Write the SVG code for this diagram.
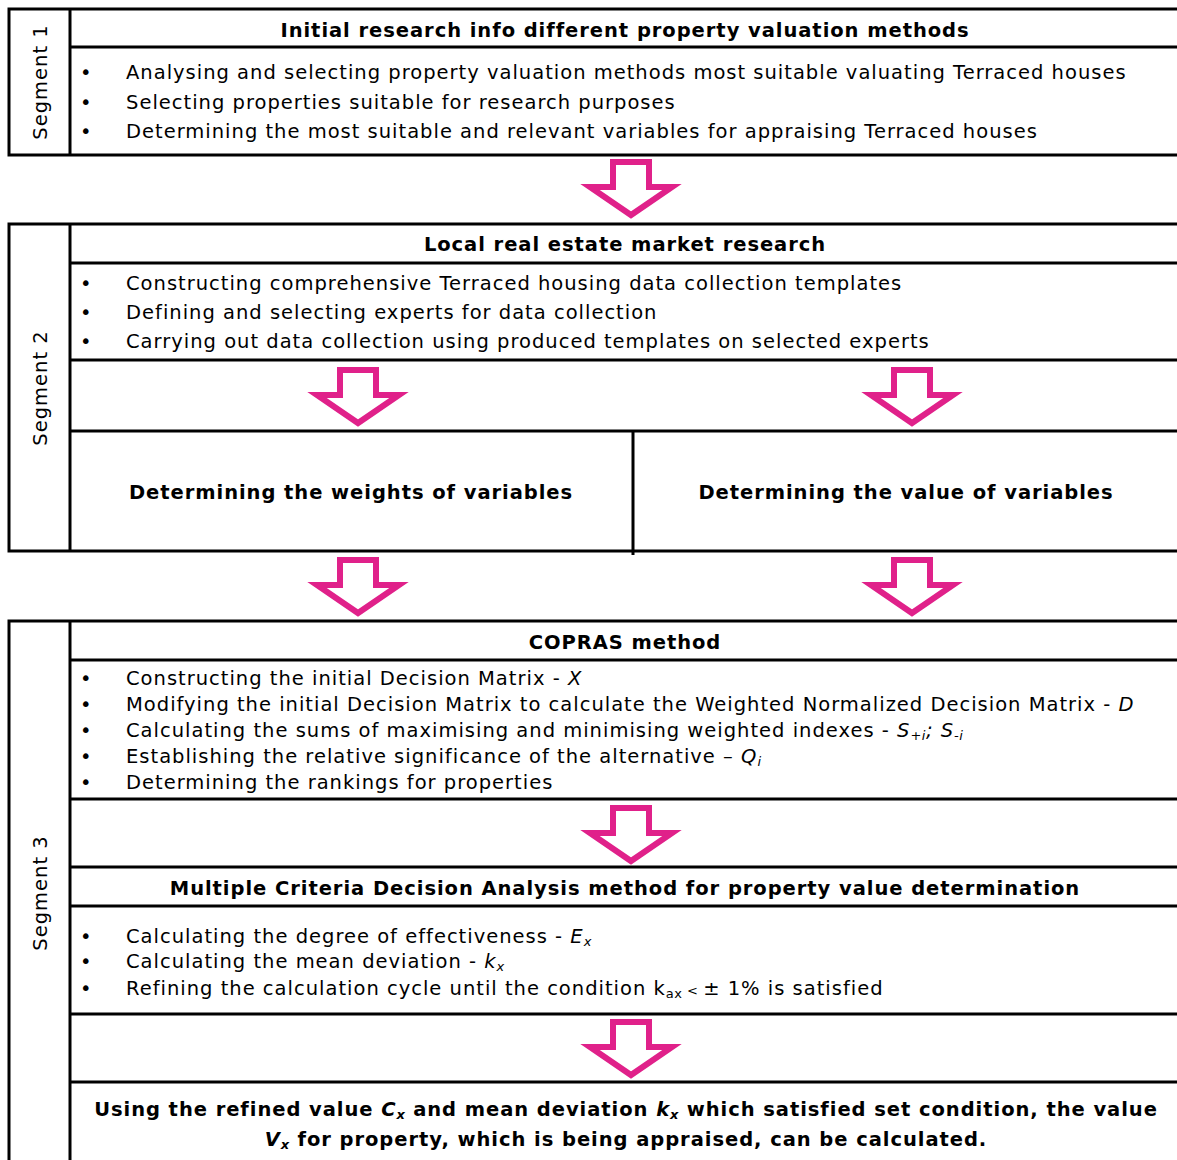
<svg xmlns="http://www.w3.org/2000/svg" width="1177" height="1160" viewBox="0 0 1177 1160">
<style>
.ln{stroke:#000;stroke-width:3;fill:none}
text{font-family:"DejaVu Sans","Verdana",sans-serif;font-size:19.5px;fill:#000;letter-spacing:1px}
.b{font-weight:bold;letter-spacing:0.95px}
.c{text-anchor:middle}
.i{font-style:italic}
.sub{font-size:13px;letter-spacing:0.5px}
.arr{fill:#fff;stroke:#e0218a;stroke-width:6;stroke-linejoin:miter}
</style>
<defs>
<path id="arrow" d="M-18,3 L18,3 L18,28 L41,28 L0,56 L-41,28 L-18,28 Z"/>
</defs>
<rect width="1177" height="1160" fill="#fff"/>

<g id="segment1">
<path class="ln" d="M1177,9 H9 V155 H1177 M70,9 V155 M70,47 H1177"/>
<text class="c" transform="translate(47,82) rotate(-90)">Segment 1</text>
<text class="b c" x="625" y="37">Initial research info different property valuation methods</text>
<text x="80" y="79">•</text><text x="126" y="79">Analysing and selecting property valuation methods most suitable valuating Terraced houses</text>
<text x="80" y="109">•</text><text x="126" y="109">Selecting properties suitable for research purposes</text>
<text x="80" y="138">•</text><text x="126" y="138">Determining the most suitable and relevant variables for appraising Terraced houses</text>
</g>

<g id="segment2">
<path class="ln" d="M1177,224 H9 V551 H1177 M70,224 V551 M70,263 H1177 M70,360 H1177 M70,431 H1177 M633,431 V555"/>
<text class="c" transform="translate(47,388) rotate(-90)">Segment 2</text>
<text class="b c" x="625" y="251">Local real estate market research</text>
<text x="80" y="290">•</text><text x="126" y="290">Constructing comprehensive Terraced housing data collection templates</text>
<text x="80" y="319">•</text><text x="126" y="319">Defining and selecting experts for data collection</text>
<text x="80" y="348">•</text><text x="126" y="348">Carrying out data collection using produced templates on selected experts</text>
<g id="weights"><text class="b c" x="351" y="499">Determining the weights of variables</text></g>
<g id="values"><text class="b c" x="906" y="499">Determining the value of variables</text></g>
</g>

<g id="segment3">
<path class="ln" d="M1177,621 H9 V1162 M70,621 V1162 M70,660 H1177 M70,799 H1177 M70,867 H1177 M70,906 H1177 M70,1014 H1177 M70,1082 H1177"/>
<text class="c" transform="translate(47,893) rotate(-90)">Segment 3</text>
<g id="copras">
<text class="b c" x="625" y="649">COPRAS method</text>
<text x="80" y="685">•</text><text x="126" y="685">Constructing the initial Decision Matrix - <tspan class="i">X</tspan></text>
<text x="80" y="711">•</text><text x="126" y="711">Modifying the initial Decision Matrix to calculate the Weighted Normalized Decision Matrix - <tspan class="i">D</tspan></text>
<text x="80" y="737">•</text><text x="126" y="737">Calculating the sums of maximising and minimising weighted indexes - <tspan class="i">S</tspan><tspan class="i sub" dy="3">+i</tspan><tspan class="i" dy="-3">; S</tspan><tspan class="i sub" dy="3">-i</tspan></text>
<text x="80" y="763">•</text><text x="126" y="763">Establishing the relative significance of the alternative – <tspan class="i">Q</tspan><tspan class="i sub" dy="3">i</tspan></text>
<text x="80" y="789">•</text><text x="126" y="789">Determining the rankings for properties</text>
</g>
<g id="mcda">
<text class="b c" x="625" y="895">Multiple Criteria Decision Analysis method for property value determination</text>
<text x="80" y="943">•</text><text x="126" y="943">Calculating the degree of effectiveness - <tspan class="i">E</tspan><tspan class="i sub" dy="3">x</tspan></text>
<text x="80" y="968">•</text><text x="126" y="968">Calculating the mean deviation - <tspan class="i">k</tspan><tspan class="i sub" dy="3">x</tspan></text>
<text x="80" y="995">•</text><text x="126" y="995">Refining the calculation cycle until the condition k<tspan class="sub" dy="3">ax</tspan><tspan class="sub" dy="-3"> &lt; </tspan>± 1% is satisfied</text>
</g>
<g id="result">
<text class="b c" x="626" y="1116">Using the refined value <tspan class="i">C</tspan><tspan class="i sub" dy="3">x</tspan><tspan dy="-3"> and mean deviation </tspan><tspan class="i">k</tspan><tspan class="i sub" dy="3">x</tspan><tspan dy="-3"> which satisfied set condition, the value</tspan></text>
<text class="b c" x="626" y="1146"><tspan class="i">V</tspan><tspan class="i sub" dy="3">x</tspan><tspan dy="-3"> for property, which is being appraised, can be calculated.</tspan></text>
</g>
</g>

<g id="connectors">
<use href="#arrow" class="arr" x="631" y="159"/>
<use href="#arrow" class="arr" x="358" y="367"/>
<use href="#arrow" class="arr" x="912" y="367"/>
<use href="#arrow" class="arr" x="358" y="557"/>
<use href="#arrow" class="arr" x="912" y="557"/>
<use href="#arrow" class="arr" x="631" y="805"/>
<use href="#arrow" class="arr" x="631" y="1019"/>
</g>
</svg>
